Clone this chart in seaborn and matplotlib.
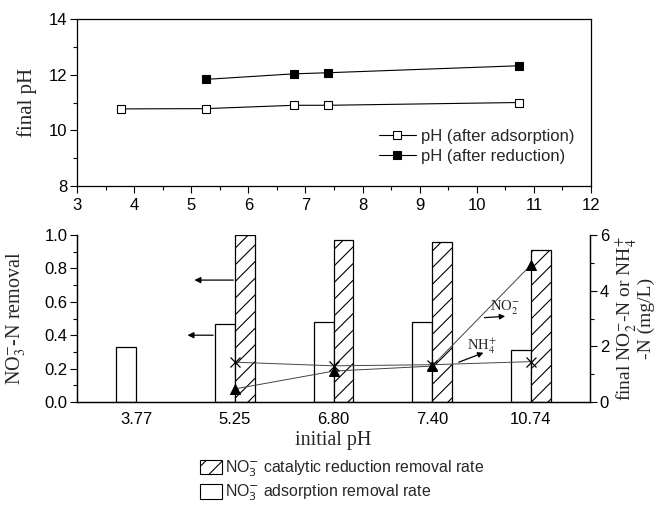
import matplotlib
matplotlib.use("Agg")
import matplotlib.pyplot as plt
import numpy as np
import pandas as pd
import seaborn as sns
from matplotlib.lines import Line2D
from matplotlib.patches import Patch
from matplotlib.ticker import MultipleLocator

# ---------------- data ----------------
initial_ph = [3.77, 5.25, 6.80, 7.40, 10.74]
ph_labels = ["3.77", "5.25", "6.80", "7.40", "10.74"]
ph_after_adsorption = [10.77, 10.78, 10.90, 10.90, 11.00]
reduction_ph_x = [5.25, 6.80, 7.40, 10.74]
ph_after_reduction = [11.83, 12.03, 12.07, 12.32]

adsorption_removal = [0.33, 0.47, 0.48, 0.48, 0.31]
reduction_removal = [None, 1.00, 0.97, 0.96, 0.91]
no2_n = [None, 0.47, 1.11, 1.29, 4.92]
nh4_n = [None, 1.43, 1.30, 1.34, 1.45]

series_names = ["NO$_3^{-}$ catalytic reduction removal rate",
                "NO$_3^{-}$ adsorption removal rate"]

# ---------------- style ----------------
sns.set_theme(style="ticks")
plt.rcParams["font.family"] = ["Liberation Sans", "DejaVu Sans"]
plt.rcParams["mathtext.fontset"] = "dejavusans"
plt.rcParams["axes.edgecolor"] = "black"
plt.rcParams["axes.linewidth"] = 0.9
plt.rcParams["xtick.color"] = "black"
plt.rcParams["ytick.color"] = "black"
plt.rcParams["hatch.linewidth"] = 0.8
plt.rcParams["hatch.color"] = "black"

serif = ["Liberation Serif", "DejaVu Serif"]
TICK = 12

fig = plt.figure(figsize=(6.64, 5.11), dpi=100)

# ---------------- top panel ----------------
ax1 = fig.add_axes([77 / 664, 1 - 186 / 511, 514 / 664, 167 / 511])
sns.lineplot(x=initial_ph, y=ph_after_adsorption, ax=ax1, color="black",
             lw=0.8, marker="s", markersize=6, markerfacecolor="white",
             markeredgecolor="black", markeredgewidth=0.8, legend=False)
sns.lineplot(x=reduction_ph_x, y=ph_after_reduction, ax=ax1, color="black",
             lw=0.8, marker="s", markersize=6, markerfacecolor="black",
             markeredgecolor="black", markeredgewidth=0.8, legend=False)
ax1.set_xlim(3, 12)
ax1.set_ylim(8, 14)
ax1.xaxis.set_major_locator(MultipleLocator(1))
ax1.xaxis.set_minor_locator(MultipleLocator(0.5))
ax1.yaxis.set_major_locator(MultipleLocator(2))
ax1.yaxis.set_minor_locator(MultipleLocator(1))
ax1.tick_params(which="both", direction="out", top=False, right=False,
                labelsize=TICK, width=0.8, pad=2)
ax1.tick_params(axis="x", which="major", pad=4)
ax1.tick_params(which="major", length=5)
ax1.tick_params(which="minor", length=3)
ax1.set_xlabel("")
ax1.set_ylabel("final pH", family=serif, fontsize=15)
ax1.yaxis.set_label_coords(-0.078, 0.5)
h1 = Line2D([], [], color="black", lw=0.8, marker="s", markersize=6,
            markerfacecolor="white", markeredgecolor="black", markeredgewidth=0.8)
h2 = Line2D([], [], color="black", lw=0.8, marker="s", markersize=6,
            markerfacecolor="black", markeredgecolor="black", markeredgewidth=0.8)
ax1.legend([h1, h2], ["pH (after adsorption)", "pH (after reduction)"],
           loc="lower right", bbox_to_anchor=(0.99, 0.06), frameon=False,
           fontsize=12, handlelength=2.2, handletextpad=0.3,
           labelspacing=0.3, borderpad=0.2)

# ---------------- bottom panel ----------------
ax = fig.add_axes([77 / 664, 1 - 402 / 511, 513 / 664, 167 / 511])
rows = []
for lab, a, r in zip(ph_labels, adsorption_removal, reduction_removal):
    rows.append({"pH": lab, "series": "adsorption", "removal": a})
    if r is not None:
        rows.append({"pH": lab, "series": "reduction", "removal": r})
df = pd.DataFrame(rows)
sns.barplot(data=df, x="pH", y="removal", hue="series", order=ph_labels,
            hue_order=["adsorption", "reduction"], width=0.4, dodge=True,
            palette={"adsorption": "white", "reduction": "white"},
            saturation=1, edgecolor="black", linewidth=0.9, errorbar=None,
            legend=False, ax=ax)
for i, cont in enumerate(ax.containers):
    for p in cont.patches:
        p.set_facecolor("white")
        p.set_edgecolor("black")
        if i == 1:
            p.set_hatch("//")
ax.set_xlim(-0.6, 4.6)
ax.set_ylim(0, 1.0)
ax.yaxis.set_major_locator(MultipleLocator(0.2))
ax.yaxis.set_minor_locator(MultipleLocator(0.1))
ax.tick_params(axis="y", which="both", direction="out", labelsize=TICK, width=0.8, pad=2)
ax.tick_params(axis="y", which="major", length=5)
ax.tick_params(axis="y", which="minor", length=3)
ax.tick_params(axis="x", length=0, labelsize=TICK, pad=7)
ax.spines["top"].set_visible(False)
ax.set_xlabel("initial pH", family=serif, fontsize=14.5, labelpad=3)
ax.set_ylabel("NO$_3^{-}$-N removal", family=serif, fontsize=14.5,
              math_fontfamily="stix")
ax.yaxis.set_label_coords(-0.095, 0.5)

# arrows pointing to left axis
ax.annotate("", xy=(0.59, 0.73), xytext=(0.985, 0.73),
            arrowprops=dict(arrowstyle="-|>", color="black", lw=0.9,
                            mutation_scale=9, shrinkA=0, shrinkB=0))
ax.annotate("", xy=(0.52, 0.40), xytext=(0.78, 0.40),
            arrowprops=dict(arrowstyle="-|>", color="black", lw=0.9,
                            mutation_scale=9, shrinkA=0, shrinkB=0))

# right axis: NO2- and NH4+
ax2 = ax.twinx()
idx = [i for i, v in enumerate(no2_n) if v is not None]
sns.lineplot(x=idx, y=[no2_n[i] for i in idx], ax=ax2, color="#444444", lw=0.7,
             marker="^", markersize=7, markerfacecolor="black",
             markeredgecolor="black", legend=False)
idx2 = [i for i, v in enumerate(nh4_n) if v is not None]
sns.lineplot(x=idx2, y=[nh4_n[i] for i in idx2], ax=ax2, color="#444444", lw=0.7,
             marker="x", markersize=7, markeredgewidth=0.9,
             markeredgecolor="black", legend=False)
ax2.set_xlim(-0.6, 4.6)
ax2.set_ylim(0, 6)
ax2.yaxis.set_major_locator(MultipleLocator(2))
ax2.yaxis.set_minor_locator(MultipleLocator(1))
ax2.tick_params(axis="y", which="both", direction="out", labelsize=TICK, width=0.8, pad=2)
ax2.tick_params(axis="y", which="major", length=5)
ax2.tick_params(axis="y", which="minor", length=3)
ax2.spines["top"].set_visible(False)
ax2.set_xlabel("")
ax2.set_ylabel("final NO$_2^{-}$-N or NH$_4^{+}$\n-N (mg/L)", family=serif,
               fontsize=14, math_fontfamily="stix", rotation=90,
               multialignment="center", linespacing=1.0)
ax2.yaxis.set_label_coords(1.045, 0.5)

ax2.text(3.74, 3.38, "NO$_2^{-}$", family=serif, fontsize=10.5,
         math_fontfamily="stix", ha="center", va="center")
ax2.annotate("", xy=(3.74, 3.08), xytext=(3.53, 3.03),
             arrowprops=dict(arrowstyle="-|>", color="black", lw=0.9,
                             mutation_scale=8, shrinkA=0, shrinkB=0))
ax2.text(3.50, 2.0, "NH$_4^{+}$", family=serif, fontsize=10.5,
         math_fontfamily="stix", ha="center", va="center")
ax2.annotate("", xy=(3.52, 1.77), xytext=(3.27, 1.43),
             arrowprops=dict(arrowstyle="-|>", color="black", lw=0.9,
                             mutation_scale=8, shrinkA=0, shrinkB=0))

# bottom legend
handles = [Patch(facecolor="white", edgecolor="black", hatch="//", lw=0.8),
           Patch(facecolor="white", edgecolor="black", lw=0.8)]
leg = fig.legend(handles, series_names, loc="upper left",
                 bbox_to_anchor=(190 / 664, 1 - 449 / 511), frameon=False,
                 fontsize=11.4, handlelength=1.4, handleheight=1.0,
                 handletextpad=0.2, labelspacing=0.25, borderpad=0.1)

fig.savefig("out.png", dpi=100)
